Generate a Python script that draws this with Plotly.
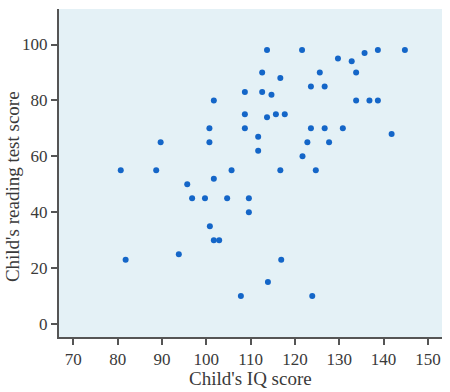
import plotly.graph_objects as go

iq_score = [80.7, 88.7, 89.7, 81.8, 93.8, 95.7, 96.8, 99.7, 100.7, 100.7,
            101.7, 101.7, 100.8, 101.7, 102.9, 105.7, 104.7, 108.7, 108.7, 108.7,
            109.6, 109.6, 107.8, 113.7, 121.6, 135.7, 138.7, 144.8, 129.7, 132.8,
            112.6, 125.6, 133.8, 116.7, 112.6, 114.7, 123.6, 126.7, 133.8, 136.8,
            138.7, 113.7, 115.7, 117.7, 123.6, 126.7, 130.8, 141.8, 111.7, 122.8,
            127.7, 111.7, 121.7, 116.7, 124.7, 116.9, 113.9, 123.9]
reading_score = [55, 55, 65, 23, 25, 50, 45, 45, 70, 65,
                 80, 52, 35, 30, 30, 55, 45, 83, 75, 70,
                 45, 40, 10, 98, 98, 97, 98, 98, 95, 94,
                 90, 90, 90, 88, 83, 82, 85, 85, 80, 80,
                 80, 74, 75, 75, 70, 70, 70, 68, 67, 65,
                 65, 62, 60, 55, 55, 23, 15, 10]

x_ticks = [70, 80, 90, 100, 110, 120, 130, 140, 150]
y_ticks = [0, 20, 40, 60, 80, 100]

x_title = "Child's IQ score"
y_title = "Child's reading test score"

font_family = "Liberation Serif, Times New Roman, serif"
text_color = "#3a3a3a"

fig = go.Figure(
    go.Scatter(
        x=iq_score, y=reading_score, mode="markers",
        marker=dict(size=6, color="#1466c8", line=dict(width=0)),
        hoverinfo="x+y",
    )
)

fig.update_layout(
    width=450, height=392,
    margin=dict(l=59, r=8, t=9, b=55, autoexpand=False),
    paper_bgcolor="white",
    plot_bgcolor="#e4f1f6",
    showlegend=False,
    font=dict(family=font_family, size=17, color=text_color),
    annotations=[
        dict(text=x_title, xref="paper", yref="paper", x=0.5, y=-0.128,
             showarrow=False, xanchor="center", yanchor="middle",
             font=dict(family=font_family, size=19, color=text_color)),
        dict(text=y_title, xref="paper", yref="paper", x=-0.1227, y=0.457,
             showarrow=False, xanchor="center", yanchor="middle", textangle=-90,
             font=dict(family=font_family, size=19, color=text_color)),
    ],
)

fig.update_xaxes(
    range=[66.77, 153.17], tickvals=x_ticks, ticktext=[str(v) for v in x_ticks],
    automargin=False,
    showgrid=False, zeroline=False,
    showline=True, linewidth=2, linecolor="#555555",
    ticks="outside", ticklen=6, tickwidth=1.5, tickcolor="#555555",
    tickfont=dict(family=font_family, size=17, color=text_color),
)
fig.update_yaxes(
    range=[-4.65, 112.7], tickvals=y_ticks, ticktext=[str(v) for v in y_ticks],
    automargin=False,
    showgrid=False, zeroline=False,
    showline=True, linewidth=2, linecolor="#555555",
    ticks="outside", ticklen=6, tickwidth=1.5, tickcolor="#555555",
    tickfont=dict(family=font_family, size=17, color=text_color),
)

fig.write_html("out.html", config={"displayModeBar": False},
               post_script="document.body.style.margin='0';")
